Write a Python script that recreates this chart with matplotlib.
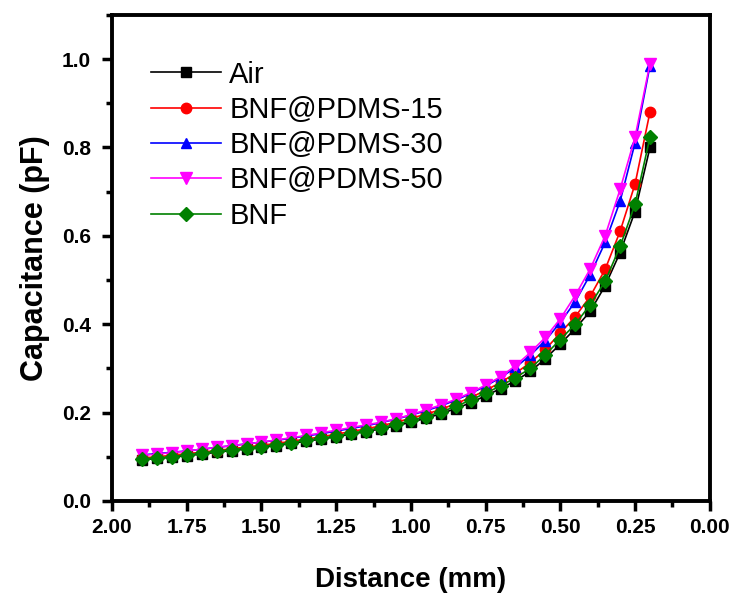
import numpy as np
import matplotlib
matplotlib.use("Agg")
import matplotlib.pyplot as plt
from matplotlib.ticker import MultipleLocator, FormatStrFormatter

plt.rcParams['font.family'] = ['Liberation Sans', 'DejaVu Sans']

distance = [1.90, 1.85, 1.80, 1.75, 1.70, 1.65, 1.60, 1.55, 1.50, 1.45,
            1.40, 1.35, 1.30, 1.25, 1.20, 1.15, 1.10, 1.05, 1.00, 0.95,
            0.90, 0.85, 0.80, 0.75, 0.70, 0.65, 0.60, 0.55, 0.50, 0.45,
            0.40, 0.35, 0.30, 0.25, 0.20]

air = [0.093, 0.096, 0.099, 0.102, 0.106, 0.110, 0.114, 0.117, 0.121, 0.125,
       0.130, 0.135, 0.140, 0.145, 0.151, 0.157, 0.163, 0.170, 0.178, 0.187,
       0.197, 0.209, 0.222, 0.238, 0.254, 0.272, 0.293, 0.322, 0.355, 0.390,
       0.429, 0.487, 0.562, 0.655, 0.800]

pdms15 = [0.097, 0.100, 0.103, 0.107, 0.110, 0.114, 0.118, 0.122, 0.126, 0.130,
          0.135, 0.140, 0.145, 0.151, 0.157, 0.163, 0.170, 0.178, 0.187, 0.196,
          0.207, 0.220, 0.234, 0.250, 0.268, 0.289, 0.313, 0.343, 0.380, 0.417,
          0.463, 0.524, 0.610, 0.717, 0.880]

pdms30 = [0.104, 0.107, 0.110, 0.113, 0.117, 0.121, 0.125, 0.129, 0.133, 0.137,
          0.142, 0.147, 0.152, 0.158, 0.164, 0.170, 0.177, 0.185, 0.194, 0.204,
          0.215, 0.228, 0.243, 0.260, 0.279, 0.302, 0.330, 0.363, 0.404, 0.451,
          0.512, 0.585, 0.678, 0.810, 0.985]

pdms50 = [0.103, 0.106, 0.109, 0.113, 0.117, 0.121, 0.125, 0.129, 0.133, 0.138,
          0.143, 0.148, 0.154, 0.160, 0.166, 0.172, 0.178, 0.186, 0.195, 0.206,
          0.217, 0.230, 0.245, 0.262, 0.281, 0.306, 0.336, 0.370, 0.412, 0.465,
          0.525, 0.600, 0.705, 0.823, 0.990]

bnf = [0.095, 0.097, 0.100, 0.104, 0.108, 0.112, 0.116, 0.119, 0.123, 0.127,
       0.132, 0.137, 0.142, 0.147, 0.153, 0.159, 0.166, 0.173, 0.182, 0.191,
       0.201, 0.214, 0.228, 0.244, 0.260, 0.279, 0.300, 0.331, 0.365, 0.400,
       0.444, 0.497, 0.576, 0.671, 0.823]

labels = ['Air', 'BNF@PDMS-15', 'BNF@PDMS-30', 'BNF@PDMS-50', 'BNF']
colors = ['black', '#FF0000', '#0000FF', '#FF00FF', '#008000']
markers = ['s', 'o', '^', 'v', 'D']
sizes = [6.5, 7.5, 7, 8, 7]

fig = plt.figure(figsize=(7.37, 5.97), dpi=100)
ax = fig.add_axes([0.152, 0.161, 0.811, 0.814])

for ys, lab, c, m, ms in zip([air, pdms15, pdms30, pdms50, bnf], labels, colors, markers, sizes):
    ax.plot(distance, ys, color=c, marker=m, markersize=ms, linewidth=1.2, label=lab)

ax.set_xlim(2.0, 0.0)
ax.set_ylim(0.0, 1.1)
ax.xaxis.set_major_locator(MultipleLocator(0.25))
ax.xaxis.set_minor_locator(MultipleLocator(0.125))
ax.yaxis.set_major_locator(MultipleLocator(0.2))
ax.yaxis.set_minor_locator(MultipleLocator(0.1))
ax.xaxis.set_major_formatter(FormatStrFormatter('%.2f'))
ax.yaxis.set_major_formatter(FormatStrFormatter('%.1f'))

ax.tick_params(which='major', direction='out', length=7, width=2.5, labelsize=15)
ax.tick_params(axis='x', which='major', pad=5)
ax.tick_params(axis='y', which='major', pad=8)
ax.tick_params(which='minor', direction='out', length=4, width=2.5)
ax.tick_params(top=False, right=False, which='both')
for lbl in ax.get_xticklabels() + ax.get_yticklabels():
    lbl.set_fontweight('bold')
for sp in ax.spines.values():
    sp.set_linewidth(2.8)

ax.set_xlabel('Distance (mm)', fontsize=20, fontweight='bold', labelpad=22)
ax.set_ylabel('Capacitance (pF)', fontsize=22, fontweight='bold', labelpad=9)

ax.legend(loc='upper left', bbox_to_anchor=(0.045, 0.93), frameon=False, fontsize=21,
          numpoints=1, handlelength=2.4, handletextpad=0.3, labelspacing=0.25,
          borderaxespad=0)

fig.savefig('out.png', dpi=100)
